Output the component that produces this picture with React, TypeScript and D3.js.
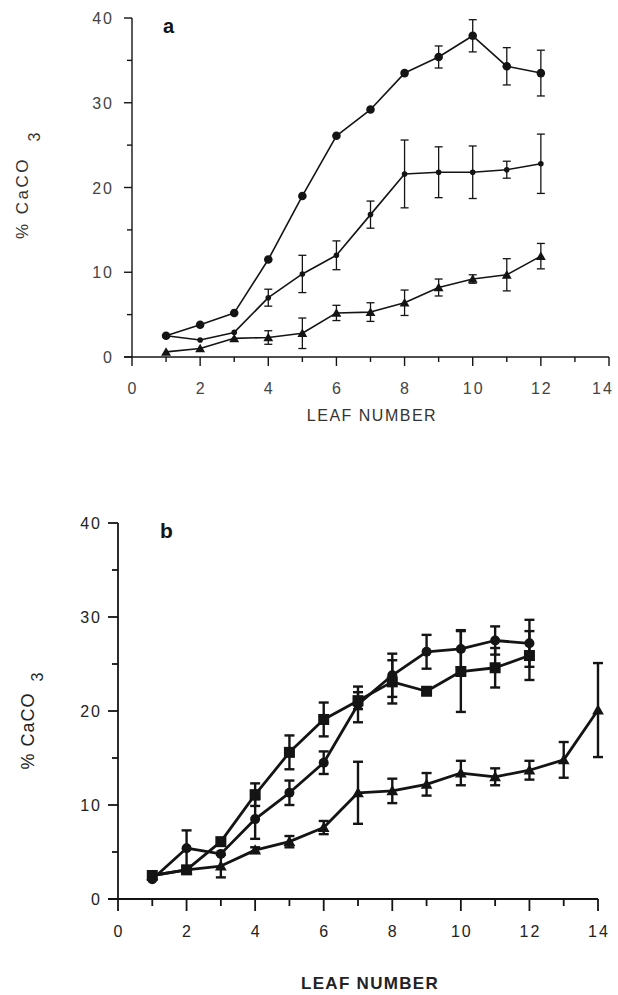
import React from 'react';
import * as d3 from 'd3';

// ---------- data ----------
const leafA = [1, 2, 3, 4, 5, 6, 7, 8, 9, 10, 11, 12];
const aTop = [2.5, 3.8, 5.2, 11.5, 19.0, 26.1, 29.2, 33.5, 35.4, 37.9, 34.3, 33.5];
const aTopErr = [0, 0, 0, 0, 0, 0, 0, 0, 1.3, 1.9, 2.2, 2.7];
const aMid = [2.5, 2.0, 2.9, 7.0, 9.8, 12.0, 16.8, 21.6, 21.8, 21.8, 22.1, 22.8];
const aMidErr = [0, 0, 0, 1.0, 2.2, 1.7, 1.6, 4.0, 3.0, 3.1, 1.0, 3.5];
const aTri = [0.6, 1.0, 2.2, 2.3, 2.8, 5.2, 5.3, 6.4, 8.2, 9.2, 9.7, 11.9];
const aTriErr = [0, 0, 0, 0.8, 1.8, 0.9, 1.1, 1.5, 1.0, 0.5, 1.9, 1.5];

const leafB = [1, 2, 3, 4, 5, 6, 7, 8, 9, 10, 11, 12];
const leafBTri = [1, 2, 3, 4, 5, 6, 7, 8, 9, 10, 11, 12, 13, 14];
const bSq = [2.5, 3.1, 6.1, 11.1, 15.6, 19.1, 21.1, 23.1, 22.1, 24.2, 24.6, 25.9];
const bSqErr = [0, 0, 0, 1.2, 1.8, 1.8, 0.9, 2.3, 0, 4.3, 2.1, 2.6];
const bCirc = [2.1, 5.4, 4.8, 8.5, 11.3, 14.5, 20.7, 23.8, 26.3, 26.6, 27.5, 27.2];
const bCircErr = [0, 1.9, 0, 2.1, 1.3, 1.2, 1.9, 2.3, 1.8, 2.0, 1.5, 2.5];
const bTri = [2.5, 3.1, 3.5, 5.2, 6.1, 7.6, 11.3, 11.5, 12.2, 13.4, 13.0, 13.7, 14.8, 20.1];
const bTriErr = [0, 0, 1.2, 0.3, 0.6, 0.7, 3.3, 1.3, 1.2, 1.3, 0.9, 1.0, 1.9, 5.0];

const yMajor = [0, 10, 20, 30, 40];
const yMinor = [5, 15, 25, 35];
const xMajor = [0, 2, 4, 6, 8, 10, 12, 14];
const xMinor = [1, 3, 5, 7, 9, 11, 13];

const INK = '#141414';
const FONT = '"Liberation Sans", Arial, Helvetica, sans-serif';

type Sc = d3.ScaleLinear<number, number>;

function ErrBars({ xs, ys, es, x, y, cap, sw }: { xs: number[]; ys: number[]; es: number[]; x: Sc; y: Sc; cap: number; sw: number }) {
  return (
    <g stroke={INK} strokeWidth={sw} fill="none">
      {xs.map((xv, i) => {
        const e = es[i];
        if (!e) return null;
        const cx = x(xv);
        const y1 = y(ys[i] + e);
        const y2 = y(ys[i] - e);
        return (
          <g key={i}>
            <line x1={cx} x2={cx} y1={y1} y2={y2} />
            <line x1={cx - cap / 2} x2={cx + cap / 2} y1={y1} y2={y1} />
            <line x1={cx - cap / 2} x2={cx + cap / 2} y1={y2} y2={y2} />
          </g>
        );
      })}
    </g>
  );
}

function Series({ xs, ys, x, y, sw, marker, size }: { xs: number[]; ys: number[]; x: Sc; y: Sc; sw: number; marker: string; size: number }) {
  const line = d3.line<number>().x((_, i) => x(xs[i])).y((d) => y(d));
  const tri = d3.symbol().type(d3.symbolTriangle).size(size)() as string;
  return (
    <g>
      <path d={line(ys) as string} fill="none" stroke={INK} strokeWidth={sw} strokeLinejoin="round" />
      {ys.map((v, i) => {
        const cx = x(xs[i]);
        const cy = y(v);
        if (marker === 'circle') return <circle key={i} cx={cx} cy={cy} r={size} fill={INK} />;
        if (marker === 'square') return <rect key={i} x={cx - size / 2} y={cy - size / 2} width={size} height={size} fill={INK} />;
        return <path key={i} d={tri} transform={`translate(${cx},${cy + 1})`} fill={INK} />;
      })}
    </g>
  );
}

function Axes({ x, y, majLen, minLen, xMajLen, xMinLen, sw, labelColor, yLabelX, xLabelY, fs, ls, maxLabelX }: any) {
  const x0 = x(0), y0 = y(0);
  return (
    <g>
      <g stroke={INK} strokeWidth={sw} fill="none">
        <line x1={x0} x2={x0} y1={y(40)} y2={y0} />
        <line x1={x0 - majLen} x2={x(14)} y1={y0} y2={y0} />
        {yMajor.map((t) => (
          <line key={'ym' + t} x1={x0 - majLen} x2={x0} y1={y(t)} y2={y(t)} />
        ))}
        {yMinor.map((t) => (
          <line key={'yn' + t} x1={x0 - minLen} x2={x0} y1={y(t)} y2={y(t)} />
        ))}
        {xMajor.map((t) => (
          <line key={'xm' + t} x1={x(t)} x2={x(t)} y1={y0} y2={y0 + xMajLen} />
        ))}
        {xMinor.map((t) => (
          <line key={'xn' + t} x1={x(t)} x2={x(t)} y1={y0} y2={y0 + xMinLen} />
        ))}
      </g>
      <g fontFamily={FONT} fontSize={fs} fill={labelColor} letterSpacing={ls}>
        {yMajor.map((t) => (
          <text key={'yl' + t} x={yLabelX} y={y(t) + 6} textAnchor="end">
            {t}
          </text>
        ))}
        {xMajor.map((t) => (
          <text key={'xl' + t} x={Math.min(x(t) + ls / 2, maxLabelX)} y={xLabelY} textAnchor="middle">
            {t}
          </text>
        ))}
      </g>
    </g>
  );
}

export default function App() {
  const xA = d3.scaleLinear().domain([0, 14]).range([132, 609]);
  const yA = d3.scaleLinear().domain([0, 40]).range([357, 18]);
  const xB = d3.scaleLinear().domain([0, 14]).range([118, 598]);
  const yB = d3.scaleLinear().domain([0, 40]).range([899, 523]);

  return (
    <svg width={618} height={995} style={{ position: 'absolute', left: 0, top: 0, background: '#fff' }}>
      {/* Panel a */}
      <Axes x={xA} y={yA} majLen={8} minLen={5} xMajLen={9} xMinLen={5} sw={1.4} labelColor="#444" yLabelX={114} xLabelY={394} fs={16} ls={2} maxLabelX={603} />
      <text x={163} y={33} fontFamily={FONT} fontWeight={700} fontSize={20} fill={INK}>a</text>
      <g fontFamily={FONT} fill="#333">
        <text transform="translate(28,198) rotate(-90)" textAnchor="middle" fontSize={17} letterSpacing={2.5}>% CaCO</text>
        <text transform="translate(40,137) rotate(-90)" textAnchor="middle" fontSize={16}>3</text>
        <text x={372} y={421} textAnchor="middle" fontSize={16} letterSpacing={1.5}>LEAF NUMBER</text>
      </g>
      <ErrBars xs={leafA} ys={aTop} es={aTopErr} x={xA} y={yA} cap={8} sw={1.3} />
      <ErrBars xs={leafA} ys={aMid} es={aMidErr} x={xA} y={yA} cap={8} sw={1.3} />
      <ErrBars xs={leafA} ys={aTri} es={aTriErr} x={xA} y={yA} cap={8} sw={1.3} />
      <Series xs={leafA} ys={aTop} x={xA} y={yA} sw={1.6} marker="circle" size={4.3} />
      <Series xs={leafA} ys={aMid} x={xA} y={yA} sw={1.6} marker="circle" size={2.8} />
      <Series xs={leafA} ys={aTri} x={xA} y={yA} sw={1.6} marker="triangle" size={42} />

      {/* Panel b */}
      <Axes x={xB} y={yB} majLen={10} minLen={6} xMajLen={12} xMinLen={7} sw={1.8} labelColor="#222" yLabelX={102} xLabelY={937} fs={16} ls={2} maxLabelX={603} />
      <text x={160} y={538} fontFamily={FONT} fontWeight={700} fontSize={21} fill={INK}>b</text>
      <g fontFamily={FONT} fill="#222">
        <text transform="translate(34,731) rotate(-90)" textAnchor="middle" fontSize={18} letterSpacing={1}>% CaCO</text>
        <text transform="translate(43,677) rotate(-90)" textAnchor="middle" fontSize={16}>3</text>
        <text x={370} y={989} textAnchor="middle" fontSize={17} fontWeight={700} letterSpacing={1.3}>LEAF NUMBER</text>
      </g>
      <ErrBars xs={leafB} ys={bSq} es={bSqErr} x={xB} y={yB} cap={10} sw={2.4} />
      <ErrBars xs={leafB} ys={bCirc} es={bCircErr} x={xB} y={yB} cap={10} sw={2.4} />
      <ErrBars xs={leafBTri} ys={bTri} es={bTriErr} x={xB} y={yB} cap={10} sw={2.4} />
      <Series xs={leafBTri} ys={bTri} x={xB} y={yB} sw={2.8} marker="triangle" size={60} />
      <Series xs={leafB} ys={bCirc} x={xB} y={yB} sw={2.8} marker="circle" size={5} />
      <Series xs={leafB} ys={bSq} x={xB} y={yB} sw={2.8} marker="square" size={11} />
    </svg>
  );
}
